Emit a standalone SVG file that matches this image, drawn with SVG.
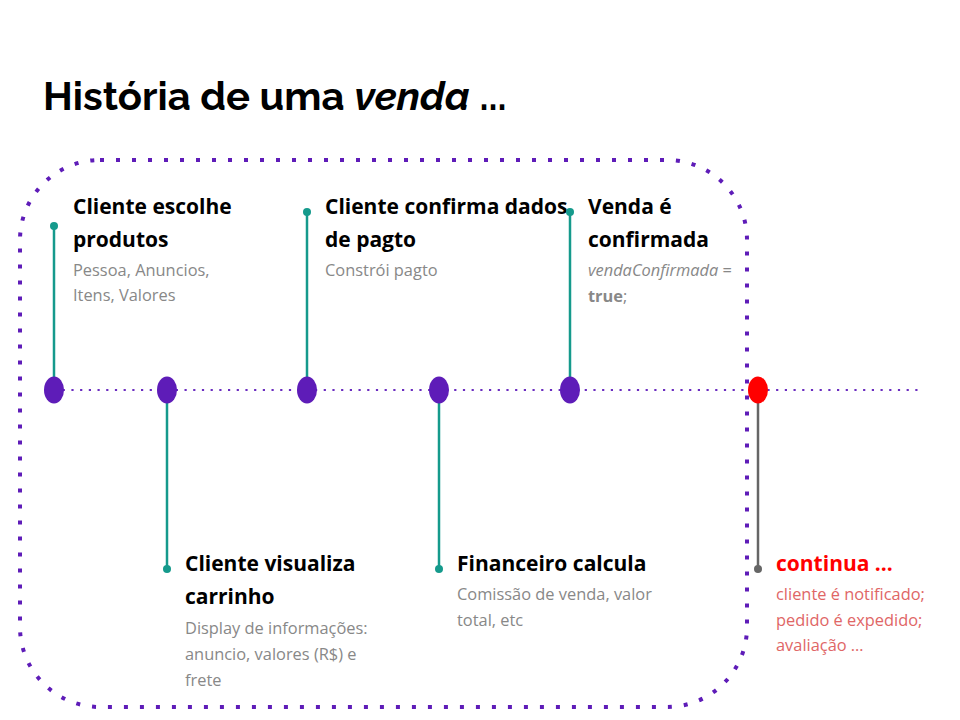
<svg xmlns="http://www.w3.org/2000/svg" width="960" height="720" viewBox="0 0 960 720">
<style>
.h{font-family:"Open Sans","Liberation Sans",sans-serif;font-weight:700;font-size:21px;fill:#000}
.s{font-family:"Open Sans","Liberation Sans",sans-serif;font-size:16.4px;fill:#888}
.r{fill:#e06666}
.stem{stroke:#159a8c;stroke-width:2.5}
.tip{fill:#159a8c}
.ev{fill:#5e1cb8}
</style>
<rect width="960" height="720" fill="#fff"/>
<text x="43" y="110" font-family="Raleway,Lato,'Liberation Sans',sans-serif" font-weight="700" font-size="40" fill="#000">História de uma <tspan font-style="italic">venda</tspan> ...</text>
<rect x="20" y="160" width="727" height="547" rx="80" ry="80" fill="none" stroke="#5e1cb8" stroke-width="4" stroke-dasharray="4 12"/>
<g id="connectors">
<line x1="54" y1="390" x2="920" y2="390" stroke="#6a2cc0" stroke-width="2.2" stroke-dasharray="2.2 6.5"/>
<line class="stem" x1="54" y1="226" x2="54" y2="390"/>
<line class="stem" x1="167" y1="390" x2="167" y2="569"/>
<line class="stem" x1="307" y1="212" x2="307" y2="390"/>
<line class="stem" x1="439" y1="390" x2="439" y2="569"/>
<line class="stem" x1="570" y1="212" x2="570" y2="390"/>
<line x1="758" y1="390" x2="758" y2="569" stroke="#666" stroke-width="2.5"/>
</g>
<g id="n1">
<circle class="tip" cx="54" cy="226" r="4"/>
<ellipse class="ev" cx="54" cy="390" rx="10" ry="13.5"/>
<text class="h" x="73" y="214">Cliente escolhe</text>
<text class="h" x="73" y="247">produtos</text>
<text class="s" x="73" y="276">Pessoa, Anuncios,</text>
<text class="s" x="73" y="301">Itens, Valores</text>
</g>
<g id="n2">
<ellipse class="ev" cx="167" cy="390" rx="10" ry="13.5"/>
<circle class="tip" cx="167" cy="569" r="4"/>
<text class="h" x="185" y="571">Cliente visualiza</text>
<text class="h" x="185" y="604">carrinho</text>
<text class="s" x="185" y="634">Display de informações:</text>
<text class="s" x="185" y="660">anuncio, valores (R$) e</text>
<text class="s" x="185" y="686">frete</text>
</g>
<g id="n3">
<circle class="tip" cx="307" cy="212" r="4"/>
<ellipse class="ev" cx="307" cy="390" rx="10" ry="13.5"/>
<text class="h" x="325" y="214">Cliente confirma dados</text>
<text class="h" x="325" y="247">de pagto</text>
<text class="s" x="325" y="276">Constrói pagto</text>
</g>
<g id="n4">
<ellipse class="ev" cx="439" cy="390" rx="10" ry="13.5"/>
<circle class="tip" cx="439" cy="569" r="4"/>
<text class="h" x="457" y="571">Financeiro calcula</text>
<text class="s" x="457" y="600">Comissão de venda, valor</text>
<text class="s" x="457" y="626">total, etc</text>
</g>
<g id="n5">
<circle class="tip" cx="570" cy="212" r="4"/>
<ellipse class="ev" cx="570" cy="390" rx="10" ry="13.5"/>
<text class="h" x="588" y="214">Venda é</text>
<text class="h" x="588" y="247">confirmada</text>
<text class="s" x="588" y="276"><tspan font-style="italic">vendaConfirmada</tspan> =</text>
<text class="s" x="588" y="302"><tspan font-weight="700">true</tspan>;</text>
</g>
<g id="n6">
<ellipse cx="758" cy="390" rx="10" ry="13.5" fill="#ff0000"/>
<circle cx="758" cy="569" r="4" fill="#666"/>
<text class="h" x="776" y="571" style="fill:#ff0000">continua ...</text>
<text class="s r" x="776" y="600">cliente é notificado;</text>
<text class="s r" x="776" y="626">pedido é expedido;</text>
<text class="s r" x="776" y="651">avaliação …</text>
</g>
</svg>
